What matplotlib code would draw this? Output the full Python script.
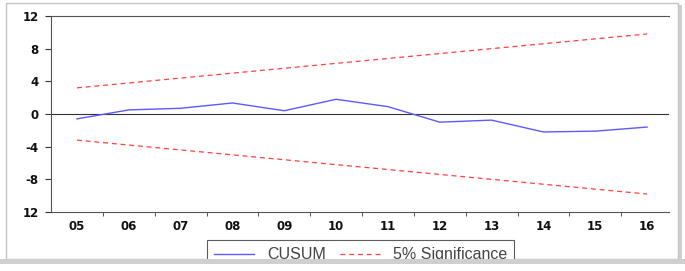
import matplotlib
matplotlib.use("Agg")
import matplotlib.pyplot as plt
from matplotlib.patches import Rectangle

plt.rcParams['font.family'] = ['Liberation Sans', 'DejaVu Sans']

years = ['05', '06', '07', '08', '09', '10', '11', '12', '13', '14', '15', '16']
cusum = [-0.6, 0.5, 0.7, 1.35, 0.4, 1.8, 0.9, -1.0, -0.75, -2.2, -2.1, -1.6]
upper = [3.2, 3.8, 4.4, 5.0, 5.6, 6.2, 6.8, 7.4, 8.0, 8.6, 9.2, 9.8]
lower = [-3.2, -3.8, -4.4, -5.0, -5.6, -6.2, -6.8, -7.4, -8.0, -8.6, -9.2, -9.8]
y_ticks = [-12, -8, -4, 0, 4, 8, 12]
y_labels = ['12', '-8', '-4', '0', '4', '8', '12']

fig = plt.figure(figsize=(6.85, 2.71), dpi=100)

# framed box with a drop shadow, like the pasted screenshot
fig.patches.append(Rectangle((0.015, 0.026), 0.981, 0.955, transform=fig.transFigure,
                             facecolor='#cfcfcf', edgecolor='none', zorder=0))
fig.patches.append(Rectangle((0.0088, 0.044), 0.981, 0.945, transform=fig.transFigure,
                             facecolor='white', edgecolor='#c4c4c4', lw=1.0, zorder=0.5))

ax = fig.add_axes([0.0745, 0.2177, 0.902, 0.7233])
ax.set_zorder(2)
x = list(range(len(years)))

ax.axhline(0, color='#333333', lw=0.8, zorder=1)
ax.plot(x, cusum, color='#5a5aff', lw=1.0, label='CUSUM', zorder=3)
ax.plot(x, upper, color='#ff4040', lw=0.9, ls=(0, (4, 3)), label='5% Significance', zorder=2)
ax.plot(x, lower, color='#ff4040', lw=0.9, ls=(0, (4, 3)), zorder=2)

tick_font = dict(family='DejaVu Sans', fontweight='bold', fontsize=8.5, color='#111111')
ax.set_xlim(-0.5, 11.42)
ax.set_ylim(-12, 12)
ax.set_xticks(x)
ax.set_xticklabels(years, **tick_font)
ax.set_xticks([i + 0.5 for i in x[:-1]], minor=True)
ax.tick_params(axis='x', which='major', length=0, pad=6)
ax.tick_params(axis='x', which='minor', length=3, direction='out', color='#333333')
ax.set_yticks(y_ticks)
ax.set_yticklabels(y_labels, **tick_font)
ax.tick_params(axis='y', length=4, direction='out', color='#333333', pad=5)

for side in ['left', 'bottom', 'top']:
    ax.spines[side].set_color('#555555')
    ax.spines[side].set_linewidth(0.8)
ax.spines['right'].set_visible(False)
ax.patch.set_alpha(0)

leg = fig.legend(loc='upper left', bbox_to_anchor=(0.302, 0.114), ncol=2, fontsize=11.5,
                 frameon=True, fancybox=False, handlelength=2.5, columnspacing=0.9,
                 borderpad=0.45, handletextpad=0.8, borderaxespad=0)
leg.set_zorder(5)
leg.get_frame().set_edgecolor('#333333')
leg.get_frame().set_linewidth(0.8)
for t in leg.get_texts():
    t.set_color('#444444')

# the bottom edge of the frame cuts off the legend box as in the reference
fig.patches.append(Rectangle((0.0, 0.026), 1.0, 0.020, transform=fig.transFigure,
                             facecolor='#cfcfcf', edgecolor='none', zorder=10))
fig.patches.append(Rectangle((0.0, 0.0), 1.0, 0.026, transform=fig.transFigure,
                             facecolor='white', edgecolor='none', zorder=11))

fig.savefig('out.png', dpi=100)
